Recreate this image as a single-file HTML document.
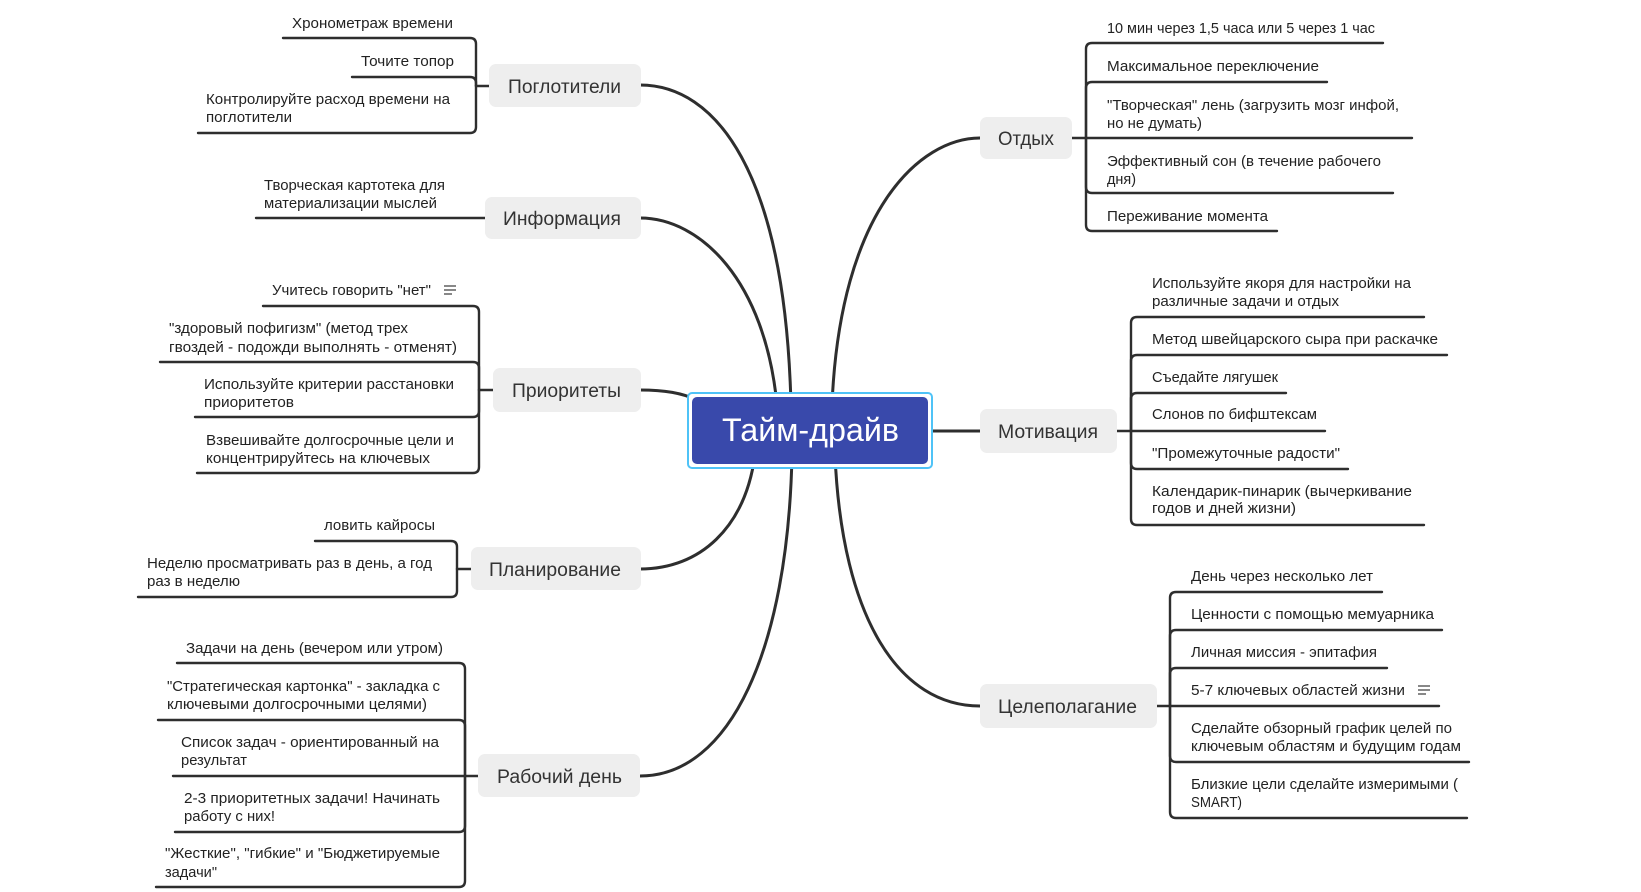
<!DOCTYPE html>
<html>
<head>
<meta charset="utf-8">
<style>
html,body{margin:0;padding:0;background:#fff;}
svg{display:block;}
.c{font-family:"Liberation Sans","DejaVu Sans",sans-serif;font-size:15px;fill:#222;}
.m{font-family:"Liberation Sans","DejaVu Sans",sans-serif;font-size:19px;fill:#333;}
.ln{fill:none;stroke:#2e2e2e;stroke-width:2.4;stroke-linecap:round;}
.cn{fill:none;stroke:#2e2e2e;stroke-width:3;}
.box{fill:#eeeeee;}
</style>
</head>
<body>
<svg width="1641" height="892" viewBox="0 0 1641 892" xmlns="http://www.w3.org/2000/svg">
<rect width="1641" height="892" fill="#fff"/>

<!-- main connectors -->
<path class="cn" d="M640,85 C715,85 785,170 791,405"/>
<path class="cn" d="M640,218 C700,218 765,280 777,405"/>
<path class="cn" d="M640,390 C665,390 682,393 697,400"/>
<path class="cn" d="M640,569 C700,569 745,528 755,455"/>
<path class="cn" d="M640,776 C730,776 788,650 792,455"/>
<path class="cn" d="M980,138 C920,138 840,210 832,405"/>
<path class="cn" d="M932,431 H980"/>
<path class="cn" d="M980,706 C900,706 842,620 835,455"/>

<!-- child branches left -->
<path class="ln" d="M489,86 H476"/>
<path class="ln" d="M476,86 V44 Q476,38 470,38 H283"/>
<path class="ln" d="M476,86 V83 Q476,77 470,77 H352"/>
<path class="ln" d="M476,86 V127 Q476,133 470,133 H198"/>

<path class="ln" d="M485,218 H256"/>

<path class="ln" d="M493,390 H479"/>
<path class="ln" d="M479,390 V312 Q479,306 473,306 H263"/>
<path class="ln" d="M479,390 V368 Q479,362 473,362 H160"/>
<path class="ln" d="M479,390 V411 Q479,417 473,417 H195"/>
<path class="ln" d="M479,390 V467 Q479,473 473,473 H197"/>

<path class="ln" d="M471,569 H457"/>
<path class="ln" d="M457,569 V547 Q457,541 451,541 H315"/>
<path class="ln" d="M457,569 V591 Q457,597 451,597 H138"/>

<path class="ln" d="M478,776 H173"/>
<path class="ln" d="M465,776 V669 Q465,663 459,663 H177"/>
<path class="ln" d="M465,776 V726 Q465,720 459,720 H158"/>
<path class="ln" d="M465,776 V826 Q465,832 459,832 H175"/>
<path class="ln" d="M465,776 V881 Q465,887 459,887 H156"/>

<!-- child branches right -->
<path class="ln" d="M1072,138 H1412"/>
<path class="ln" d="M1086,138 V49 Q1086,43 1092,43 H1383"/>
<path class="ln" d="M1086,138 V88 Q1086,82 1092,82 H1327"/>
<path class="ln" d="M1086,138 V187 Q1086,193 1092,193 H1393"/>
<path class="ln" d="M1086,138 V225 Q1086,231 1092,231 H1277"/>

<path class="ln" d="M1117,431 H1325"/>
<path class="ln" d="M1131,431 V323 Q1131,317 1137,317 H1424"/>
<path class="ln" d="M1131,431 V361 Q1131,355 1137,355 H1447"/>
<path class="ln" d="M1131,431 V399 Q1131,393 1137,393 H1286"/>
<path class="ln" d="M1131,431 V463 Q1131,469 1137,469 H1348"/>
<path class="ln" d="M1131,431 V519 Q1131,525 1137,525 H1424"/>

<path class="ln" d="M1157,706 H1439"/>
<path class="ln" d="M1170,706 V598 Q1170,592 1176,592 H1382"/>
<path class="ln" d="M1170,706 V636 Q1170,630 1176,630 H1442"/>
<path class="ln" d="M1170,706 V674 Q1170,668 1176,668 H1387"/>
<path class="ln" d="M1170,706 V756 Q1170,762 1176,762 H1469"/>
<path class="ln" d="M1170,706 V812 Q1170,818 1176,818 H1467"/>

<!-- main topic boxes -->
<rect class="box" x="489" y="64" width="152" height="43" rx="7"/>
<rect class="box" x="485" y="197" width="156" height="42" rx="7"/>
<rect class="box" x="493" y="368" width="148" height="44" rx="7"/>
<rect class="box" x="471" y="547" width="170" height="43" rx="7"/>
<rect class="box" x="478" y="754" width="162" height="43" rx="7"/>
<rect class="box" x="980" y="117" width="92" height="42" rx="7"/>
<rect class="box" x="980" y="409" width="137" height="44" rx="7"/>
<rect class="box" x="980" y="684" width="177" height="44" rx="7"/>

<text class="m" x="508" y="93" textLength="113" lengthAdjust="spacingAndGlyphs">Поглотители</text>
<text class="m" x="503" y="225" textLength="118" lengthAdjust="spacingAndGlyphs">Информация</text>
<text class="m" x="512" y="397" textLength="109" lengthAdjust="spacingAndGlyphs">Приоритеты</text>
<text class="m" x="489" y="576" textLength="132" lengthAdjust="spacingAndGlyphs">Планирование</text>
<text class="m" x="497" y="783" textLength="125" lengthAdjust="spacingAndGlyphs">Рабочий день</text>
<text class="m" x="998" y="145" textLength="56" lengthAdjust="spacingAndGlyphs">Отдых</text>
<text class="m" x="998" y="438" textLength="100" lengthAdjust="spacingAndGlyphs">Мотивация</text>
<text class="m" x="998" y="713" textLength="139" lengthAdjust="spacingAndGlyphs">Целеполагание</text>

<!-- central node -->
<rect x="688" y="393" width="244" height="75" rx="4" fill="#fff" stroke="#4fc3f7" stroke-width="2"/>
<rect x="692" y="397" width="236" height="67" rx="5" fill="#3949ab"/>
<text x="722" y="441" textLength="177" lengthAdjust="spacingAndGlyphs" style="font-family:'Liberation Sans','DejaVu Sans',sans-serif;font-size:32px;fill:#fff;">Тайм-драйв</text>

<!-- left child texts -->
<text class="c" x="292" y="28" textLength="161" lengthAdjust="spacingAndGlyphs">Хронометраж времени</text>
<text class="c" x="361" y="66" textLength="93" lengthAdjust="spacingAndGlyphs">Точите топор</text>
<text class="c" x="206" y="104" textLength="244" lengthAdjust="spacingAndGlyphs">Контролируйте расход времени на</text>
<text class="c" x="206" y="122" textLength="86" lengthAdjust="spacingAndGlyphs">поглотители</text>
<text class="c" x="264" y="190" textLength="181" lengthAdjust="spacingAndGlyphs">Творческая картотека для</text>
<text class="c" x="264" y="208" textLength="173" lengthAdjust="spacingAndGlyphs">материализации мыслей</text>
<text class="c" x="272" y="295" textLength="159" lengthAdjust="spacingAndGlyphs">Учитесь говорить "нет"</text>
<text class="c" x="169" y="333" textLength="239" lengthAdjust="spacingAndGlyphs">"здоровый пофигизм" (метод трех</text>
<text class="c" x="169" y="352" textLength="288" lengthAdjust="spacingAndGlyphs">гвоздей - подожди выполнять - отменят)</text>
<text class="c" x="204" y="389" textLength="250" lengthAdjust="spacingAndGlyphs">Используйте критерии расстановки</text>
<text class="c" x="204" y="407" textLength="90" lengthAdjust="spacingAndGlyphs">приоритетов</text>
<text class="c" x="206" y="445" textLength="248" lengthAdjust="spacingAndGlyphs">Взвешивайте долгосрочные цели и</text>
<text class="c" x="206" y="463" textLength="224" lengthAdjust="spacingAndGlyphs">концентрируйтесь на ключевых</text>
<text class="c" x="324" y="530" textLength="111" lengthAdjust="spacingAndGlyphs">ловить кайросы</text>
<text class="c" x="147" y="568" textLength="285" lengthAdjust="spacingAndGlyphs">Неделю просматривать раз в день, а год</text>
<text class="c" x="147" y="586" textLength="93" lengthAdjust="spacingAndGlyphs">раз в неделю</text>
<text class="c" x="186" y="653" textLength="257" lengthAdjust="spacingAndGlyphs">Задачи на день (вечером или утром)</text>
<text class="c" x="167" y="691" textLength="273" lengthAdjust="spacingAndGlyphs">"Стратегическая картонка" - закладка с</text>
<text class="c" x="167" y="709" textLength="260" lengthAdjust="spacingAndGlyphs">ключевыми долгосрочными целями)</text>
<text class="c" x="181" y="747" textLength="258" lengthAdjust="spacingAndGlyphs">Список задач - ориентированный на</text>
<text class="c" x="181" y="765" textLength="66" lengthAdjust="spacingAndGlyphs">результат</text>
<text class="c" x="184" y="803" textLength="256" lengthAdjust="spacingAndGlyphs">2-3 приоритетных задачи! Начинать</text>
<text class="c" x="184" y="821" textLength="91" lengthAdjust="spacingAndGlyphs">работу с них!</text>
<text class="c" x="165" y="858" textLength="275" lengthAdjust="spacingAndGlyphs">"Жесткие", "гибкие" и "Бюджетируемые</text>
<text class="c" x="165" y="877" textLength="52" lengthAdjust="spacingAndGlyphs">задачи"</text>

<!-- right child texts -->
<text class="c" x="1107" y="33" textLength="268" lengthAdjust="spacingAndGlyphs">10 мин через 1,5 часа или 5 через 1 час</text>
<text class="c" x="1107" y="71" textLength="212" lengthAdjust="spacingAndGlyphs">Максимальное переключение</text>
<text class="c" x="1107" y="110" textLength="292" lengthAdjust="spacingAndGlyphs">"Творческая" лень (загрузить мозг инфой,</text>
<text class="c" x="1107" y="128" textLength="95" lengthAdjust="spacingAndGlyphs">но не думать)</text>
<text class="c" x="1107" y="166" textLength="274" lengthAdjust="spacingAndGlyphs">Эффективный сон (в течение рабочего</text>
<text class="c" x="1107" y="184" textLength="29" lengthAdjust="spacingAndGlyphs">дня)</text>
<text class="c" x="1107" y="221" textLength="161" lengthAdjust="spacingAndGlyphs">Переживание момента</text>
<text class="c" x="1152" y="288" textLength="259" lengthAdjust="spacingAndGlyphs">Используйте якоря для настройки на</text>
<text class="c" x="1152" y="306" textLength="187" lengthAdjust="spacingAndGlyphs">различные задачи и отдых</text>
<text class="c" x="1152" y="344" textLength="286" lengthAdjust="spacingAndGlyphs">Метод швейцарского сыра при раскачке</text>
<text class="c" x="1152" y="382" textLength="126" lengthAdjust="spacingAndGlyphs">Съедайте лягушек</text>
<text class="c" x="1152" y="419" textLength="165" lengthAdjust="spacingAndGlyphs">Слонов по бифштексам</text>
<text class="c" x="1152" y="458" textLength="188" lengthAdjust="spacingAndGlyphs">"Промежуточные радости"</text>
<text class="c" x="1152" y="496" textLength="260" lengthAdjust="spacingAndGlyphs">Календарик-пинарик (вычеркивание</text>
<text class="c" x="1152" y="513" textLength="144" lengthAdjust="spacingAndGlyphs">годов и дней жизни)</text>
<text class="c" x="1191" y="581" textLength="182" lengthAdjust="spacingAndGlyphs">День через несколько лет</text>
<text class="c" x="1191" y="619" textLength="243" lengthAdjust="spacingAndGlyphs">Ценности с помощью мемуарника</text>
<text class="c" x="1191" y="657" textLength="186" lengthAdjust="spacingAndGlyphs">Личная миссия - эпитафия</text>
<text class="c" x="1191" y="695" textLength="214" lengthAdjust="spacingAndGlyphs">5-7 ключевых областей жизни</text>
<text class="c" x="1191" y="733" textLength="261" lengthAdjust="spacingAndGlyphs">Сделайте обзорный график целей по</text>
<text class="c" x="1191" y="751" textLength="270" lengthAdjust="spacingAndGlyphs">ключевым областям и будущим годам</text>
<text class="c" x="1191" y="789" textLength="267" lengthAdjust="spacingAndGlyphs">Близкие цели сделайте измеримыми (</text>
<text class="c" x="1191" y="807" textLength="51" lengthAdjust="spacingAndGlyphs">SMART)</text>

<!-- note icons -->
<g stroke="#555" stroke-width="1.4">
<line x1="444" y1="286" x2="456" y2="286"/>
<line x1="444" y1="290" x2="456" y2="290"/>
<line x1="444" y1="294" x2="452" y2="294"/>
<line x1="1418" y1="686" x2="1430" y2="686"/>
<line x1="1418" y1="690" x2="1430" y2="690"/>
<line x1="1418" y1="694" x2="1426" y2="694"/>
</g>
</svg>
</body>
</html>
